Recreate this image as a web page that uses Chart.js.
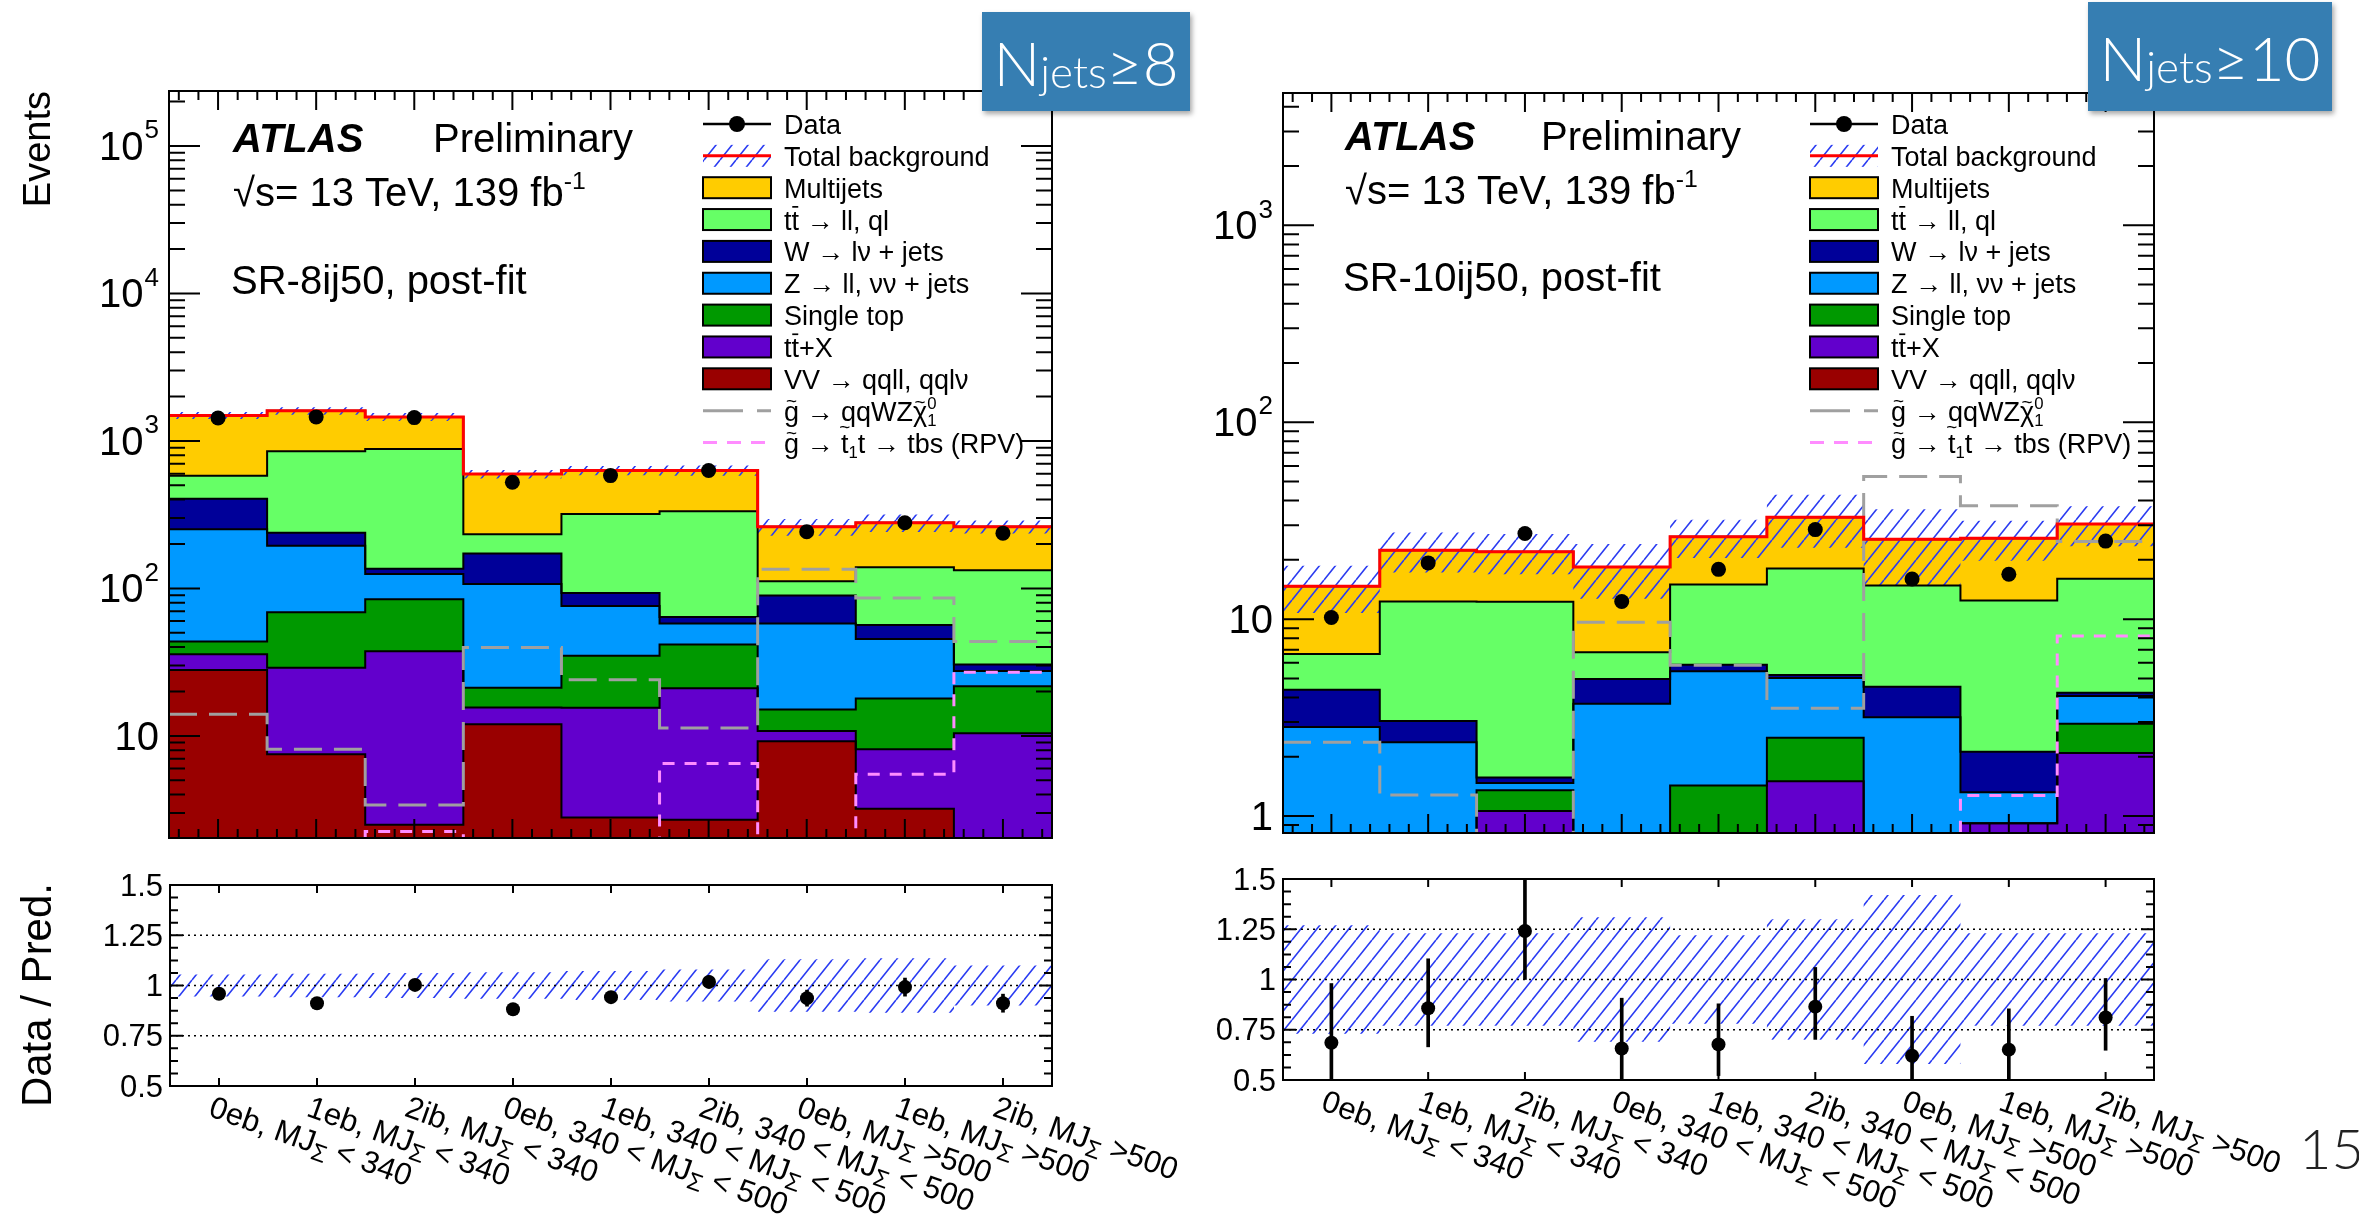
<!DOCTYPE html>
<html>
<head>
<meta charset="utf-8">
<script src="https://cdn.jsdelivr.net/npm/chart.js@4.4.1/dist/chart.umd.min.js"></script>
<style>
  body { margin: 0; background: #fff; width: 2359px; height: 1222px; overflow: hidden; position: relative; }
  canvas { position: absolute; }
  .tag {
    position: absolute; z-index: 5; background: #367eb2; color: #fff;
    font-family: Lato, 'Open Sans', sans-serif; font-weight: 300; font-size: 62px;
    display: flex; align-items: center; justify-content: center; white-space: nowrap;
    box-shadow: 2px 3px 5px rgba(0, 0, 0, 0.35);
  }
  .tag sub { font-size: 44px; vertical-align: baseline; position: relative; top: 9px; }
  .page { position: absolute; left: 2299px; top: 1120px; font-family: Lato, sans-serif; font-weight: 300; font-size: 56px; line-height: 56px; color: #222; }
</style>
</head>
<body>
<canvas id="main8" width="1180" height="860" style="left:0;top:0"></canvas>
<canvas id="ratio8" width="1180" height="362" style="left:0;top:860px"></canvas>
<canvas id="main10" width="1179" height="860" style="left:1180px;top:0"></canvas>
<canvas id="ratio10" width="1179" height="362" style="left:1180px;top:860px"></canvas>
<div class="tag" style="left:982px;top:12px;width:208px;height:99px">N<sub>jets</sub>≥8</div>
<div class="tag" style="left:2088px;top:2px;width:244px;height:109px">N<sub>jets</sub>≥10</div>
<div class="page">15</div>

<script>
// Bin categories (shared by both regions)
const binLabels = [
  '0eb, MJΣ < 340', '1eb, MJΣ < 340', '2ib, MJΣ < 340',
  '0eb, 340 < MJΣ < 500', '1eb, 340 < MJΣ < 500', '2ib, 340 < MJΣ < 500',
  '0eb, MJΣ >500', '1eb, MJΣ >500', '2ib, MJΣ >500'
];
const yTicks8 = [10, 100, 1000, 10000, 100000];
const yTicks10 = [1, 10, 100, 1000];
const ratioTicks = [0.5, 0.75, 1, 1.25, 1.5];
const ratioTickLabels = ['0.5', '0.75', '1', '1.25', '1.5'];

// SR-8ij50 (Njets >= 8), post-fit yields
const multijets8 = [908, 749, 574, 363, 310, 297, 150, 140, 129];
const ttbar8 = [176, 613, 745, 61, 227, 269, 22.5, 82.6, 102.5];
const wjets8 = [154, 43, 11, 65, 17, 6.3, 31.8, 11, 3];
const zjets8 = [208, 126, 40.5, 86, 41, 16, 42.6, 27.5, 5.8];
const singleTop8 = [7.8, 40, 47, 5.6, 19.4, 20.7, 4.3, 9.8, 11.3];
const ttX8 = [7.8, 21.5, 35, 3.6, 12.7, 18.3, 1.6, 4.9, 8.9];
const vv8 = [28, 7.5, 2.5, 12, 2.8, 2.7, 9.2, 3.2, 1.5];
const data8 = [1431, 1455, 1440, 525, 582, 630, 242, 279, 237];
const qqWZ8 = [14, 8.1, 3.4, 39.7, 24, 11.3, 135, 86, 43.6];
const rpv8 = [1.9, 1.9, 2.25, 1.9, 1.9, 6.5, 1.9, 5.5, 27];
const bkgErr8 = [0.055, 0.058, 0.062, 0.066, 0.072, 0.08, 0.13, 0.135, 0.1];
const ratio8 = [0.959, 0.912, 1.003, 0.882, 0.942, 1.018, 0.937, 0.992, 0.912];
const ratioErrUp8 = [0.02, 0.02, 0.02, 0.025, 0.025, 0.03, 0.04, 0.045, 0.045];
const ratioErrDn8 = [0.02, 0.02, 0.02, 0.025, 0.025, 0.03, 0.04, 0.045, 0.045];

// SR-10ij50 (Njets >= 10), post-fit yields
const multijets10 = [8.05, 10.1, 9.7, 11.6, 11.2, 14.8, 10.6, 13.3, 14.4];
const ttbar10 = [2.27, 9.26, 10.7, 1.81, 9.13, 12.9, 10.3, 10.3, 11.8];
const wjets10 = [1.55, 0.67, 0.1, 1.25, 0.44, 0.18, 1.37, 0.8, 0.16];
const zjets10 = [2.83, 2.37, 0.12, 3.72, 4.0, 2.52, 3.17, 0.4, 1.13];
const singleTop10 = [0, 0, 0.29, 0, 1.43, 1.0, 0, 0, 0.85];
const ttX10 = [0, 0, 1.06, 0, 0, 1.5, 0, 0.92, 2.09];
const vv10 = [0, 0, 0, 0, 0, 0, 0, 0, 0];
const data10 = [10.2, 19.3, 27.2, 12.3, 17.9, 28.5, 16.0, 16.9, 24.9];
const qqWZ10 = [2.37, 1.28, 0.5, 9.65, 5.83, 3.53, 53, 37.7, 24.8];
const rpv10 = [0.78, 0.78, 0.78, 0.78, 0.78, 0.78, 0.78, 1.27, 8.2];
const bkgErr10 = [0.27, 0.23, 0.23, 0.31, 0.22, 0.30, 0.42, 0.23, 0.23];
const ratio10 = [0.685, 0.857, 1.241, 0.657, 0.677, 0.865, 0.621, 0.651, 0.811];
const ratioErrUp10 = [0.295, 0.246, 0.28, 0.25, 0.202, 0.195, 0.196, 0.203, 0.194];
const ratioErrDn10 = [0.285, 0.192, 0.241, 0.207, 0.155, 0.163, 0.171, 0.171, 0.163];

// Stack order, bottom -> top
const compColors = ['#990000', '#6200cc', '#009900', '#0099ff', '#000099', '#66ff66', '#ffcc00'];

const FONT = "'Liberation Sans', Arial, Helvetica, sans-serif";
const LABEL_ANGLE = 19.5 * Math.PI / 180;

// diagonal blue hatching like ROOT fill style 3354
function makeHatch() {
  const c = document.createElement('canvas');
  c.width = 16; c.height = 20;
  const g = c.getContext('2d');
  g.strokeStyle = '#2a3cf2';
  g.lineWidth = 1.6;
  g.beginPath();
  for (const k of [-1, 0, 1]) {
    g.moveTo(k * 16, 20);
    g.lineTo(k * 16 + 16, 0);
  }
  g.stroke();
  return g.createPattern(c, 'repeat');
}
const hatch = makeHatch();

function edgePoints(vals) {
  const pts = vals.map((v, i) => ({ x: i, y: v }));
  pts.push({ x: vals.length, y: vals[vals.length - 1] });
  return pts;
}
function centerPoints(vals) {
  return vals.map((v, i) => ({ x: i + 0.5, y: v }));
}

// rich text: strings, {t, bar, tilde}, {sup, sub, scale}
function drawRich(ctx, parts, x, y, size) {
  ctx.textAlign = 'left';
  ctx.textBaseline = 'alphabetic';
  for (const p of parts) {
    const part = typeof p === 'string' ? { t: p } : p;
    if (part.t !== undefined) {
      ctx.font = size + 'px ' + FONT;
      const w = ctx.measureText(part.t).width;
      ctx.fillText(part.t, x, y);
      if (part.bar) {
        ctx.save();
        ctx.strokeStyle = ctx.fillStyle;
        ctx.lineWidth = Math.max(1, size / 16);
        ctx.beginPath();
        ctx.moveTo(x + w * 0.1, y - size * 0.84);
        ctx.lineTo(x + w * 0.9, y - size * 0.84);
        ctx.stroke();
        ctx.restore();
      }
      if (part.tilde) {
        ctx.save();
        const ts = size * 0.7;
        ctx.font = ts + 'px ' + FONT;
        ctx.textAlign = 'center';
        ctx.fillText('~', x + w / 2, y - size * part.tilde + ts * 0.34);
        ctx.restore();
      }
      x += w;
    } else {
      const s = size * (part.scale || 0.62);
      ctx.font = s + 'px ' + FONT;
      let w = 0;
      if (part.sup !== undefined) {
        ctx.fillText(part.sup, x, y - size * 0.42);
        w = ctx.measureText(part.sup).width;
      }
      if (part.sub !== undefined) {
        ctx.fillText(part.sub, x, y + size * 0.2);
        w = Math.max(w, ctx.measureText(part.sub).width);
      }
      x += w;
    }
  }
  return x;
}

const legendEntries = [
  { kind: 'data', text: ['Data'] },
  { kind: 'band', text: ['Total background'] },
  { kind: 'fill', color: compColors[6], text: ['Multijets'] },
  { kind: 'fill', color: compColors[5], text: ['t', { t: 't', bar: true }, ' → ll, ql'] },
  { kind: 'fill', color: compColors[4], text: ['W → lν + jets'] },
  { kind: 'fill', color: compColors[3], text: ['Z → ll, νν + jets'] },
  { kind: 'fill', color: compColors[2], text: ['Single top'] },
  { kind: 'fill', color: compColors[1], text: ['t', { t: 't', bar: true }, '+X'] },
  { kind: 'fill', color: compColors[0], text: ['VV → qqll, qqlν'] },
  { kind: 'dash', color: '#a0a0a0', dash: [40, 14], text: [{ t: 'g', tilde: 0.74 }, ' → qqWZ', { t: 'χ', tilde: 0.72 }, { sup: '0', sub: '1' }] },
  { kind: 'dash', color: '#ff8cff', dash: [14, 10], text: [{ t: 'g', tilde: 0.74 }, ' → ', { t: 't', tilde: 0.95 }, { sub: '1' }, 't → tbs (RPV)'] }
];

function drawLegend(ctx, x0, tx, y0, dy) {
  const w = 68;
  legendEntries.forEach((e, i) => {
    const y = y0 + dy * i;
    ctx.save();
    if (e.kind === 'data') {
      ctx.strokeStyle = '#000'; ctx.lineWidth = 2.5;
      ctx.beginPath(); ctx.moveTo(x0, y); ctx.lineTo(x0 + w, y); ctx.stroke();
      ctx.fillStyle = '#000';
      ctx.beginPath(); ctx.arc(x0 + w / 2, y, 8, 0, Math.PI * 2); ctx.fill();
    } else if (e.kind === 'band') {
      ctx.fillStyle = hatch; ctx.fillRect(x0, y - 11, w, 22);
      ctx.strokeStyle = '#ff0000'; ctx.lineWidth = 3;
      ctx.beginPath(); ctx.moveTo(x0, y); ctx.lineTo(x0 + w, y); ctx.stroke();
    } else if (e.kind === 'fill') {
      ctx.fillStyle = e.color; ctx.fillRect(x0, y - 10.5, w, 21);
      ctx.strokeStyle = '#000'; ctx.lineWidth = 2; ctx.strokeRect(x0, y - 10.5, w, 21);
    } else {
      ctx.strokeStyle = e.color; ctx.lineWidth = 3; ctx.setLineDash(e.dash);
      ctx.beginPath(); ctx.moveTo(x0, y); ctx.lineTo(x0 + w, y); ctx.stroke();
    }
    ctx.restore();
    ctx.fillStyle = '#000';
    drawRich(ctx, e.text, tx, y + 10, 27);
  });
}

function drawBinTicks(ctx, a, xs, major, minor) {
  ctx.beginPath();
  for (let k = 0; k < 45; k++) {
    const isMajor = k % 5 === 2;
    if (!isMajor && !minor) continue;
    const px = xs.getPixelForValue(0.1 + 0.2 * k);
    const len = isMajor ? major : minor;
    ctx.moveTo(px, a.bottom); ctx.lineTo(px, a.bottom - len);
    ctx.moveTo(px, a.top); ctx.lineTo(px, a.top + len);
  }
  ctx.stroke();
}

function drawLogTicks(ctx, a, ys) {
  const lo = Math.floor(Math.log10(ys.min)), hi = Math.ceil(Math.log10(ys.max));
  ctx.beginPath();
  for (let d = lo; d <= hi; d++) {
    for (let m = 1; m <= 9; m++) {
      const v = m * Math.pow(10, d);
      if (v < ys.min || v > ys.max) continue;
      const py = ys.getPixelForValue(v);
      const len = m === 1 ? 31 : 16;
      ctx.moveTo(a.left, py); ctx.lineTo(a.left + len, py);
      ctx.moveTo(a.right, py); ctx.lineTo(a.right - len, py);
    }
  }
  ctx.stroke();
}

function drawLogLabels(ctx, a, ys, ticks) {
  ctx.fillStyle = '#000';
  ctx.textBaseline = 'middle';
  ticks.forEach(v => {
    const py = ys.getPixelForValue(v);
    const e = Math.round(Math.log10(v));
    const xr = a.left - 10;
    if (e >= 2) {
      ctx.font = '26px ' + FONT;
      const sw = ctx.measureText(String(e)).width;
      ctx.textAlign = 'left';
      ctx.fillText(String(e), xr - sw, py - 15);
      ctx.font = '40px ' + FONT;
      ctx.textAlign = 'right';
      ctx.fillText('10', xr - sw - 1, py + 3);
    } else {
      ctx.font = '40px ' + FONT;
      ctx.textAlign = 'right';
      ctx.fillText(String(v), xr, py + 3);
    }
  });
}

function drawBinLabels(ctx, a, xs) {
  const size = 31;
  ctx.fillStyle = '#000';
  binLabels.forEach((lab, i) => {
    const px = xs.getPixelForValue(i + 0.5);
    const [pre, post] = lab.split('Σ');
    ctx.save();
    ctx.translate(px - 4, a.bottom + 8);
    ctx.rotate(LABEL_ANGLE);
    drawRich(ctx, [pre, { sub: 'Σ', scale: 0.78 }, post], 0, size * 0.74, size);
    ctx.restore();
  });
}

function buildStack(components) {
  const cum = new Array(components[0].length).fill(0);
  return components.map(vals => {
    vals.forEach((v, i) => { cum[i] += v; });
    return cum.map(v => Math.max(v, 1e-3));
  });
}

function stepLine(vals, color, width, dash) {
  return {
    data: edgePoints(vals), stepped: true, borderColor: color, borderWidth: width,
    borderDash: dash || [], pointRadius: 0, fill: false
  };
}

function makeMain(id, p) {
  const tops = buildStack(p.components);
  const total = tops[tops.length - 1];
  const up = total.map((t, i) => t * (1 + p.bkgErr[i]));
  const dn = total.map((t, i) => t * (1 - p.bkgErr[i]));
  const datasets = [
    { data: centerPoints(p.data), showLine: false, pointRadius: 7.5, pointBackgroundColor: '#000', pointBorderColor: '#000', pointBorderWidth: 0 },
    stepLine(total, '#ff0000', 3),
    stepLine(p.qqWZ, '#a0a0a0', 3, [28, 12]),
    stepLine(p.rpv, '#ff8cff', 3, [12, 10]),
    { data: edgePoints(up), stepped: true, borderWidth: 0, pointRadius: 0, backgroundColor: hatch, fill: 5 },
    { data: edgePoints(dn), stepped: true, borderWidth: 0, pointRadius: 0, fill: false }
  ];
  const first = datasets.length;
  const n = tops.length;
  for (let k = 0; k < n; k++) {
    const idx = n - 1 - k; // top component first
    datasets.push({
      data: edgePoints(tops[idx]), stepped: true, borderColor: '#000', borderWidth: 2,
      pointRadius: 0, backgroundColor: compColors[idx],
      fill: idx === 0 ? 'start' : first + k + 1
    });
  }

  const deco = {
    id: 'mainDeco',
    afterDraw(chart) {
      const { ctx, chartArea: a, scales } = chart;
      const xs = scales.x, ys = scales.y;
      ctx.save();
      ctx.strokeStyle = '#000';
      ctx.lineWidth = 2;
      drawBinTicks(ctx, a, xs, 19, 9);
      drawLogTicks(ctx, a, ys);
      ctx.strokeRect(a.left, a.top, a.right - a.left, a.bottom - a.top);
      drawLogLabels(ctx, a, ys, p.yTicks);

      ctx.fillStyle = '#000';
      ctx.textAlign = 'left';
      ctx.textBaseline = 'alphabetic';
      ctx.font = 'italic bold 40px ' + FONT;
      ctx.fillText('ATLAS', p.atlasX, p.textY[0]);
      ctx.font = '40px ' + FONT;
      ctx.fillText('Preliminary', p.prelimX, p.textY[0]);
      drawRich(ctx, ['√s= 13 TeV, 139 fb', { sup: '-1' }], p.atlasX, p.textY[1], 40);
      drawRich(ctx, [p.region], p.atlasX - 2, p.textY[2], 40);

      drawLegend(ctx, p.legX, p.legTextX, 124, 31.85);

      if (p.yTitle) {
        ctx.save();
        ctx.translate(50, a.top);
        ctx.rotate(-Math.PI / 2);
        ctx.font = '38px ' + FONT;
        ctx.textAlign = 'right';
        ctx.fillText(p.yTitle, 0, 0);
        ctx.restore();
      }
      ctx.restore();
    }
  };

  return new Chart(document.getElementById(id), {
    type: 'line',
    data: { datasets },
    options: {
      responsive: false, animation: false, events: [], devicePixelRatio: 1,
      layout: { padding: p.padding, autoPadding: false },
      plugins: { legend: { display: false }, tooltip: { enabled: false }, filler: { drawTime: 'beforeDatasetsDraw' } },
      scales: {
        x: { type: 'linear', min: 0, max: 9, offset: false, display: false },
        y: { type: 'logarithmic', min: p.yMin, max: p.yMax, display: false }
      }
    },
    plugins: [deco]
  });
}

function makeRatio(id, p) {
  const up = p.bkgErr.map(e => 1 + e);
  const dn = p.bkgErr.map(e => 1 - e);
  const datasets = [
    { data: centerPoints(p.ratio), showLine: false, pointRadius: 7, pointBackgroundColor: '#000', pointBorderWidth: 0 },
    { type: 'bar', data: p.ratio.map((r, i) => ({ x: i + 0.5, y: [r - p.errDn[i], r + p.errUp[i]] })), backgroundColor: '#000', barThickness: 3, borderWidth: 0 },
    { data: edgePoints(up), stepped: true, borderWidth: 0, pointRadius: 0, backgroundColor: hatch, fill: 3 },
    { data: edgePoints(dn), stepped: true, borderWidth: 0, pointRadius: 0, fill: false }
  ];

  const deco = {
    id: 'ratioDeco',
    beforeDatasetsDraw(chart) {
      const { ctx, chartArea: a, scales } = chart;
      ctx.save();
      ctx.strokeStyle = '#000';
      ctx.lineWidth = 1.6;
      ctx.setLineDash([2, 4]);
      ctx.beginPath();
      [0.75, 1, 1.25].forEach(v => {
        const py = scales.y.getPixelForValue(v);
        ctx.moveTo(a.left, py); ctx.lineTo(a.right, py);
      });
      ctx.stroke();
      ctx.restore();
    },
    afterDraw(chart) {
      const { ctx, chartArea: a, scales } = chart;
      const xs = scales.x, ys = scales.y;
      ctx.save();
      ctx.strokeStyle = '#000';
      ctx.lineWidth = 2;
      drawBinTicks(ctx, a, xs, 8, 0);
      ctx.beginPath();
      for (let k = 0; k <= 16; k++) {
        const v = 0.5 + k * 0.0625;
        const py = ys.getPixelForValue(v);
        const len = k % 4 === 0 ? 13 : 8;
        ctx.moveTo(a.left, py); ctx.lineTo(a.left + len, py);
        ctx.moveTo(a.right, py); ctx.lineTo(a.right - len, py);
      }
      ctx.stroke();
      ctx.strokeRect(a.left, a.top, a.right - a.left, a.bottom - a.top);

      ctx.fillStyle = '#000';
      ctx.font = '31px ' + FONT;
      ctx.textAlign = 'right';
      ctx.textBaseline = 'middle';
      ratioTicks.forEach((v, i) => ctx.fillText(ratioTickLabels[i], a.left - 7, ys.getPixelForValue(v) + 2));

      drawBinLabels(ctx, a, xs);

      if (p.yTitle) {
        ctx.save();
        ctx.translate(51, a.top - 2);
        ctx.rotate(-Math.PI / 2);
        ctx.font = '42px ' + FONT;
        ctx.textAlign = 'right';
        ctx.textBaseline = 'alphabetic';
        ctx.fillText(p.yTitle, 0, 0);
        ctx.restore();
      }
      ctx.restore();
    }
  };

  return new Chart(document.getElementById(id), {
    type: 'line',
    data: { datasets },
    options: {
      responsive: false, animation: false, events: [], devicePixelRatio: 1,
      layout: { padding: p.padding, autoPadding: false },
      plugins: { legend: { display: false }, tooltip: { enabled: false }, filler: { drawTime: 'beforeDatasetsDraw' } },
      scales: {
        x: { type: 'linear', min: 0, max: 9, offset: false, display: false },
        y: { type: 'linear', min: 0.5, max: 1.5, display: false }
      }
    },
    plugins: [deco]
  });
}

makeMain('main8', {
  components: [vv8, ttX8, singleTop8, zjets8, wjets8, ttbar8, multijets8],
  data: data8, qqWZ: qqWZ8, rpv: rpv8, bkgErr: bkgErr8,
  yMin: 2.03, yMax: 2.36e5, yTicks: yTicks8,
  padding: { left: 169, right: 128, top: 91, bottom: 22 },
  atlasX: 233, prelimX: 433, textY: [152, 206, 294], region: 'SR-8ij50, post-fit',
  legX: 703, legTextX: 784, yTitle: 'Events'
});
makeRatio('ratio8', {
  ratio: ratio8, errUp: ratioErrUp8, errDn: ratioErrDn8, bkgErr: bkgErr8,
  padding: { left: 170, right: 128, top: 25, bottom: 136 },
  yTitle: 'Data / Pred.'
});
makeMain('main10', {
  components: [vv10, ttX10, singleTop10, zjets10, wjets10, ttbar10, multijets10],
  data: data10, qqWZ: qqWZ10, rpv: rpv10, bkgErr: bkgErr10,
  yMin: 0.82, yMax: 4700, yTicks: yTicks10,
  padding: { left: 103, right: 205, top: 93, bottom: 27 },
  atlasX: 165, prelimX: 361, textY: [150, 204, 291], region: 'SR-10ij50, post-fit',
  legX: 630, legTextX: 711, yTitle: null
});
makeRatio('ratio10', {
  ratio: ratio10, errUp: ratioErrUp10, errDn: ratioErrDn10, bkgErr: bkgErr10,
  padding: { left: 103, right: 205, top: 19, bottom: 142 },
  yTitle: null
});
</script>
</body>
</html>
